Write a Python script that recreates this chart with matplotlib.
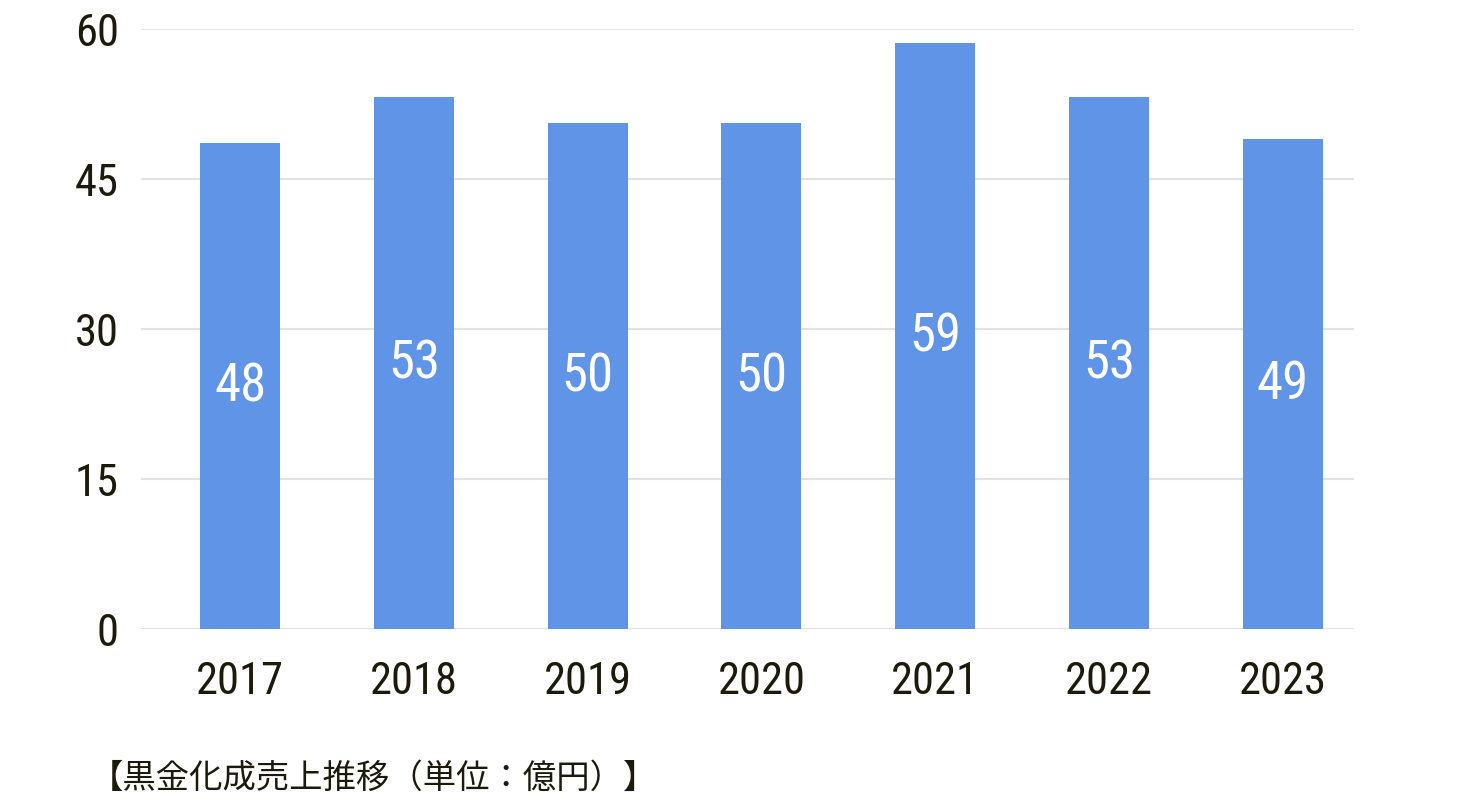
import matplotlib.pyplot as plt
from matplotlib import font_manager

#data
years = ["2017", "2018", "2019", "2020", "2021", "2022", "2023"]
sales = [48.6, 53.2, 50.6, 50.6, 58.6, 53.2, 49.0]
labels = ["48", "53", "50", "50", "59", "53", "49"]
yticks = [0, 15, 30, 45, 60]
caption = "【黒金化成売上推移（単位：億円）】"

#font pick
names = {f.name for f in font_manager.fontManager.ttflist}
num_font = "DejaVu Sans"
for cand in ["Roboto Condensed", "Liberation Sans Narrow", "DejaVu Sans Condensed", "Open Sans Condensed"]:
    if cand in names:
        num_font = cand
        break

bar_color = "#5f94e6"
text_color = "#1c1a0c"
grid_color = "#e2e2e2"

fig = plt.figure(figsize=(14.8, 8.04), dpi=100)
ax = fig.add_axes([141 / 1480, 1 - 630 / 804, 1213 / 1480, 600 / 804])

x = range(len(years))
bars = ax.bar(x, sales, width=0.46, color=bar_color, zorder=2)

for b, lab in zip(bars, labels):
    ax.text(b.get_x() + b.get_width() / 2, b.get_height() / 2, lab,
            ha="center", va="center", color="white", fontsize=38,
            family=num_font, stretch="condensed", zorder=3)

ax.set_xlim(-0.57, 6.41)
ax.set_ylim(0, 60)
ax.set_yticks(yticks)
ax.set_yticklabels([str(t) for t in yticks], fontsize=32, color=text_color,
                   family=num_font)
ax.set_xticks(list(x))
ax.set_xticklabels(years, fontsize=32, color=text_color, family=num_font)
ax.tick_params(length=0, axis="y", pad=16)
ax.tick_params(length=0, axis="x", pad=22)

ax.grid(axis="y", color=grid_color, linewidth=1.5, zorder=0)
for s in ax.spines.values():
    s.set_visible(False)

fig.text(90 / 1480, 1 - 778 / 804, caption, fontsize=24, color=text_color,
         family=["Noto Sans CJK JP", "DejaVu Sans"], va="center", ha="left")

fig.savefig("out.png", dpi=100, facecolor="white")
